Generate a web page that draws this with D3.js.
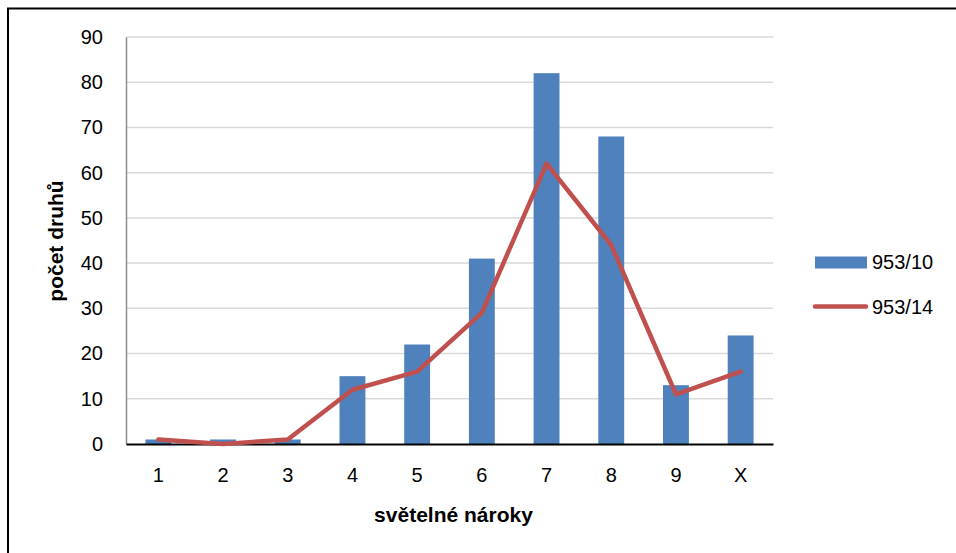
<!DOCTYPE html>
<html>
<head>
<meta charset="utf-8">
<script src="https://cdn.jsdelivr.net/npm/d3@7"></script>
<style>
  html, body { margin: 0; padding: 0; background: #fff; }
  svg { display: block; font-family: "Liberation Sans", Arial, sans-serif; }
</style>
</head>
<body>
<svg id="chart" width="956" height="553"></svg>
<script>
// Light-requirement classes (Ellenberg L) and species counts per plot
const categories = ["1", "2", "3", "4", "5", "6", "7", "8", "9", "X"];
const plot953_10 = [1, 1, 1, 15, 22, 41, 82, 68, 13, 24];
const plot953_14 = [1, 0, 1, 12, 16, 29, 62, 44, 11, 16];
const yTicks = [0, 10, 20, 30, 40, 50, 60, 70, 80, 90];
const seriesNames = ["953/10", "953/14"];

const barColor = "#4F81BD";
const lineColor = "#C0504D";
const tickFont = 20;
const titleFont = 21;

const svg = d3.select("#chart");

// outer frame
svg.append("rect")
  .attr("x", 8).attr("y", 8.5)
  .attr("width", 980).attr("height", 600)
  .attr("fill", "none").attr("stroke", "#000").attr("stroke-width", 2);

const plot = { left: 126, right: 773, top: 37, bottom: 444 };

const x = d3.scaleBand()
  .domain(categories)
  .range([plot.left, plot.right])
  .paddingInner(0.6)
  .paddingOuter(0.3);

const y = d3.scaleLinear()
  .domain([0, 90])
  .range([plot.bottom, plot.top]);

// horizontal gridlines
svg.append("g")
  .selectAll("line")
  .data(yTicks.filter(d => d > 0))
  .join("line")
  .attr("x1", plot.left).attr("x2", plot.right)
  .attr("y1", d => y(d)).attr("y2", d => y(d))
  .attr("stroke", "#D9D9D9").attr("stroke-width", 1.5);

// y axis
const yAxis = svg.append("g")
  .attr("transform", `translate(${plot.left},0)`)
  .call(d3.axisLeft(y).tickValues(yTicks).tickSize(0).tickPadding(23));
yAxis.select(".domain").attr("stroke", "#8C8C8C").attr("stroke-width", 1.5);
yAxis.selectAll("text")
  .attr("font-size", tickFont).attr("fill", "#000")
  .attr("font-family", "'Liberation Sans', Arial, sans-serif");

// bars
svg.append("g")
  .selectAll("rect")
  .data(categories.map((c, i) => ({ c, v: plot953_10[i] })))
  .join("rect")
  .attr("x", d => x(d.c))
  .attr("width", x.bandwidth())
  .attr("y", d => y(d.v))
  .attr("height", d => y(0) - y(d.v))
  .attr("fill", barColor);

// x axis
const xAxis = svg.append("g")
  .attr("transform", `translate(0,${plot.bottom})`)
  .call(d3.axisBottom(x).tickSize(0).tickPadding(24));
xAxis.select(".domain").attr("stroke", "#000").attr("stroke-width", 2);
xAxis.selectAll("text")
  .attr("font-size", tickFont).attr("fill", "#000")
  .attr("font-family", "'Liberation Sans', Arial, sans-serif");

// line series
const line = d3.line()
  .x((d, i) => x(categories[i]) + x.bandwidth() / 2)
  .y(d => y(d));
svg.append("path")
  .datum(plot953_14)
  .attr("d", line)
  .attr("fill", "none")
  .attr("stroke", lineColor)
  .attr("stroke-width", 4.5)
  .attr("stroke-linejoin", "round")
  .attr("stroke-linecap", "round");

// axis titles
svg.append("text")
  .attr("x", (plot.left + plot.right) / 2 + 4)
  .attr("y", 522)
  .attr("text-anchor", "middle")
  .attr("font-size", titleFont).attr("font-weight", "bold")
  .text("světelné nároky");

svg.append("text")
  .attr("transform", `translate(63,241) rotate(-90)`)
  .attr("text-anchor", "middle")
  .attr("font-size", titleFont).attr("font-weight", "bold")
  .text("počet druhů");

// legend
const legend = svg.append("g");
legend.append("rect")
  .attr("x", 815).attr("y", 256.5)
  .attr("width", 52).attr("height", 12)
  .attr("fill", barColor);
legend.append("line")
  .attr("x1", 815).attr("x2", 866)
  .attr("y1", 306.5).attr("y2", 306.5)
  .attr("stroke", lineColor).attr("stroke-width", 4.5)
  .attr("stroke-linecap", "round");
legend.selectAll("text")
  .data(seriesNames)
  .join("text")
  .attr("x", 872)
  .attr("y", (d, i) => 269 + i * 45)
  .attr("font-size", tickFont)
  .text(d => d);
</script>
</body>
</html>
